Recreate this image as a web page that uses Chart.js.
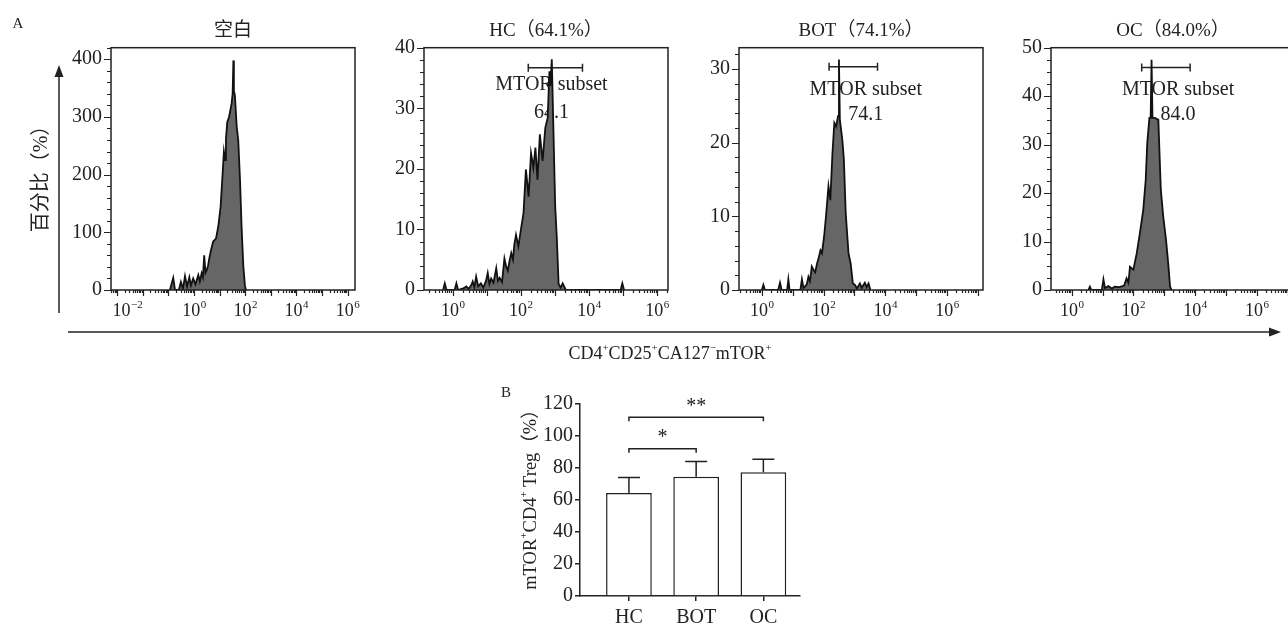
<!DOCTYPE html>
<html>
<head>
<meta charset="utf-8">
<script src="https://cdn.jsdelivr.net/npm/chart.js@4.4.1/dist/chart.umd.min.js"></script>
<style>
html, body { margin: 0; padding: 0; background: #fff; overflow: hidden; }
#fig { position: relative; width: 1288px; height: 625px; overflow: hidden; background: #fff;
  font-family: "Liberation Serif", "Noto Sans CJK SC", serif; color: #222; }
#fig canvas { position: absolute; top: 0; }
#fig svg { position: absolute; left: 0; top: 0; }
.lab { position: absolute; white-space: nowrap; line-height: 1; transform: translate(-50%, -50%); }
.rot { transform: translate(-50%, -50%) rotate(-90deg); }
sup { font-size: 60%; line-height: 0; vertical-align: 0.75em; }
</style>
</head>
<body>
<div id="fig">
  <canvas id="p1" width="328" height="330" style="left:41px"></canvas>
  <canvas id="p2" width="328" height="330" style="left:354px"></canvas>
  <canvas id="p3" width="328" height="330" style="left:669px"></canvas>
  <canvas id="p4" width="328" height="330" style="left:981px"></canvas>
  <canvas id="bar" width="335" height="245" style="left:480px;top:380px"></canvas>

  <svg width="1288" height="625">
    <line x1="59" y1="313" x2="59" y2="74" stroke="#222" stroke-width="1.5"/>
    <polygon points="59,65 54.5,77 63.5,77" fill="#222"/>
    <line x1="68" y1="332" x2="1272" y2="332" stroke="#222" stroke-width="1.5"/>
    <polygon points="1281,332 1269,327.5 1269,336.5" fill="#222"/>
  </svg>

  <div class="lab" style="left:18px;top:23px;font-size:15px">A</div>
  <div class="lab" style="left:506px;top:392px;font-size:15px">B</div>
  <div class="lab rot" style="left:40px;top:174px;font-size:20px">百分比（%）</div>
  <div class="lab" style="left:670px;top:353px;font-size:18px">CD4<sup>+</sup>CD25<sup>+</sup>CA127<sup>−</sup>mTOR<sup>+</sup></div>
  <div class="lab rot" style="left:530px;top:495px;font-size:18.5px">mTOR<sup>+</sup>CD4<sup>+</sup> Treg（%）</div>
</div>

<script>
// 直方图数据：x 为荧光强度的对数位置（10 的指数），y 为计数
const blankX = [-0.94, -0.81, -0.74, -0.59, -0.51, -0.43, -0.35, -0.27, -0.18, -0.12, -0.03, 0.06, 0.17, 0.23, 0.30, 0.35, 0.40, 0.45, 0.50, 0.55, 0.60, 0.66, 0.75, 0.86, 0.95, 1.04, 1.12, 1.17, 1.22, 1.25, 1.30, 1.37, 1.41, 1.47, 1.51, 1.54, 1.56, 1.60, 1.67, 1.73, 1.80, 1.86, 1.93, 1.99, 2.03];
const blankY = [0, 21, 0, 0, 14, 2, 24, 6, 22, 8, 20, 10, 26, 15, 29, 22, 60, 30, 35, 42, 55, 68, 84, 89, 110, 144, 202, 240, 225, 262, 291, 300, 309, 323, 340, 398, 345, 337, 283, 260, 190, 110, 40, 8, 0];

const hcX = [-0.28, -0.23, -0.18, 0.06, 0.11, 0.16, 0.33, 0.40, 0.47, 0.55, 0.59, 0.64, 0.69, 0.75, 0.83, 0.90, 0.98, 1.03, 1.08, 1.13, 1.20, 1.28, 1.33, 1.38, 1.45, 1.52, 1.57, 1.62, 1.67, 1.72, 1.77, 1.81, 1.86, 1.93, 2.01, 2.08, 2.15, 2.23, 2.30, 2.37, 2.43, 2.49, 2.56, 2.64, 2.72, 2.79, 2.84, 2.87, 2.91, 2.95, 3.01, 3.06, 3.11, 3.17, 3.23, 3.32, 4.93, 4.98, 5.03];
const hcY = [0, 1.1, 0, 0, 1.1, 0, 0.3, 0.6, 0.2, 0.8, 1.4, 0.5, 2.2, 0.6, 1.1, 0.4, 1.5, 2.8, 1.0, 1.9, 1.2, 3.6, 1.5, 2.0, 1.3, 5.2, 3.9, 3.2, 4.8, 6.1, 5.0, 7.5, 9.1, 7.2, 10.2, 12.7, 19.9, 15.4, 22.6, 20.2, 23.5, 18.2, 25.7, 21.3, 26.8, 28.4, 36.1, 33.7, 38.1, 28.4, 13.8, 8.3, 1.0, 0.4, 1.1, 0, 0, 1.1, 0];

const botX = [0.00, 0.05, 0.10, 0.53, 0.59, 0.64, 0.82, 0.86, 0.90, 1.25, 1.30, 1.35, 1.41, 1.46, 1.51, 1.56, 1.62, 1.68, 1.73, 1.79, 1.84, 1.90, 1.95, 2.02, 2.08, 2.16, 2.22, 2.29, 2.35, 2.41, 2.47, 2.50, 2.53, 2.61, 2.66, 2.72, 2.81, 2.88, 2.95, 3.02, 3.08, 3.18, 3.24, 3.34, 3.40, 3.46, 3.52];
const botY = [0, 0.7, 0, 0, 1.0, 0, 0, 1.45, 0, 0, 1.45, 0.3, 0.5, 0.8, 1.8, 1.2, 3.2, 2.7, 2.4, 3.6, 4.3, 5.4, 5.0, 7.3, 10.0, 14.1, 12.2, 18.6, 22.7, 22.2, 23.6, 31.3, 23.1, 20.4, 17.7, 10.4, 5.0, 3.6, 0.9, 0.7, 0.2, 0.9, 0.3, 1.0, 0.4, 0.9, 0];

const ocX = [0.54, 0.59, 0.64, 0.98, 1.03, 1.08, 1.19, 1.30, 1.40, 1.55, 1.70, 1.78, 1.84, 1.89, 2.00, 2.11, 2.21, 2.32, 2.40, 2.45, 2.52, 2.56, 2.59, 2.62, 2.70, 2.81, 2.89, 2.97, 3.06, 3.13, 3.19, 3.24];
const ocY = [0, 0.7, 0, 0, 2.2, 0.4, 0.8, 0.3, 0.7, 0.6, 0.9, 2.4, 1.5, 4.8, 4.2, 7.6, 11.7, 16.5, 22.7, 30.3, 35.5, 35.5, 47.5, 35.5, 35.5, 35.1, 20.7, 15.1, 10.3, 5.5, 0.7, 0];

// 坐标轴刻度（x 轴标签写作 10 的幂）
const decadeExp = ['−2', '0', '2', '4', '6'];
const blankXTicks = [-2.6, 0, 2, 4, 6];
const otherXTicks = [0, 2, 4, 6];
const blankYTicks = [0, 100, 200, 300, 400];
const hcYTicks = [0, 10, 20, 30, 40];
const botYTicks = [0, 10, 20, 30];
const ocYTicks = [0, 10, 20, 30, 40, 50];

const titles = ['空白', 'HC（64.1%）', 'BOT（74.1%）', 'OC（84.0%）'];

// MTOR subset 门控（HC、BOT、OC）
const gateFrom = [2.22, 2.18, 2.27];
const gateTo = [3.81, 3.75, 3.84];
const gateLevel = [36.7, 30.3, 45.9];
const gateValue = ['64.1', '74.1', '84.0'];
const gateTextX = [2.9, 3.37, 3.45];
const gateNameY = [33.9, 27.2, 41.3];
const gateValueY = [29.3, 23.8, 36.2];

// 柱状图 B
const groups = ['HC', 'BOT', 'OC'];
const means = [64.3, 74.6, 77.3];
const sds = [9.7, 9.4, 8.1];
const barYTicks = [0, 20, 40, 60, 80, 100, 120];
const sigFrom = [0, 0];
const sigTo = [1, 2];
const sigLevel = [92, 111.7];
const sigMark = ['*', '**'];

const FONT = '"Liberation Serif", "Noto Sans CJK SC", serif';
const INK = '#222';

// 直方图的边框、刻度、标题和门控
const histDeco = {
    id: 'histDeco',
    beforeDatasetsDraw(chart, args, opts) {
        if (opts.gate < 0) return;
        const ctx = chart.ctx, xs = chart.scales.x, ys = chart.scales.y;
        const i = opts.gate;
        const x1 = xs.getPixelForValue(gateFrom[i]), x2 = xs.getPixelForValue(gateTo[i]);
        const y = ys.getPixelForValue(gateLevel[i]);
        ctx.save();
        ctx.strokeStyle = INK;
        ctx.lineWidth = 1.5;
        ctx.beginPath();
        ctx.moveTo(x1, y); ctx.lineTo(x2, y);
        ctx.moveTo(x1, y - 4); ctx.lineTo(x1, y + 4);
        ctx.moveTo(x2, y - 4); ctx.lineTo(x2, y + 4);
        ctx.stroke();
        ctx.fillStyle = INK;
        ctx.font = '20px ' + FONT;
        ctx.textAlign = 'center';
        ctx.textBaseline = 'middle';
        const tx = xs.getPixelForValue(gateTextX[i]);
        ctx.fillText('MTOR subset', tx, ys.getPixelForValue(gateNameY[i]));
        ctx.fillText(gateValue[i], tx, ys.getPixelForValue(gateValueY[i]));
        ctx.restore();
    },
    afterDraw(chart, args, opts) {
        const ctx = chart.ctx, a = chart.chartArea;
        const xs = chart.scales.x, ys = chart.scales.y;
        ctx.save();
        ctx.strokeStyle = INK;
        ctx.lineWidth = 1.5;
        ctx.strokeRect(a.left, a.top, a.right - a.left, a.bottom - a.top);

        ctx.lineWidth = 1.2;
        ctx.beginPath();
        // y 轴主、次刻度
        for (let v = 0; v <= ys.max + 1e-6; v += opts.minor) {
            const major = Math.abs(v / opts.major - Math.round(v / opts.major)) < 1e-6;
            const len = major ? 7 : 4;
            const py = Math.round(ys.getPixelForValue(v)) + 0.5;
            ctx.moveTo(a.left - len, py);
            ctx.lineTo(a.left, py);
        }
        // x 轴对数刻度
        for (let n = Math.floor(xs.min); n <= Math.ceil(xs.max); n++) {
            for (let k = 1; k <= 9; k++) {
                const u = n + Math.log10(k);
                if (u < xs.min || u > xs.max) continue;
                const px = Math.round(xs.getPixelForValue(u)) + 0.5;
                ctx.moveTo(px, a.bottom);
                ctx.lineTo(px, a.bottom + (k === 1 ? 6 : 3));
            }
        }
        ctx.stroke();

        // x 轴标签：10 加上标指数
        ctx.fillStyle = INK;
        ctx.textBaseline = 'alphabetic';
        ctx.textAlign = 'left';
        xs.ticks.forEach((t, i) => {
            const e = opts.exps[i];
            ctx.font = '18px ' + FONT;
            const wb = ctx.measureText('10').width;
            ctx.font = '11px ' + FONT;
            const we = ctx.measureText(e).width;
            const x0 = xs.getPixelForValue(t.value) - (wb + we) / 2;
            const base = a.bottom + 26;
            ctx.font = '18px ' + FONT;
            ctx.fillText('10', x0, base);
            ctx.font = '11px ' + FONT;
            ctx.fillText(e, x0 + wb + 0.5, base - 8);
        });

        ctx.font = '19px ' + FONT;
        ctx.textAlign = 'center';
        ctx.textBaseline = 'middle';
        ctx.fillText(opts.title, (a.left + a.right) / 2, a.top - 17);
        ctx.restore();
    }
};

function histogram(id, xs, ys, xRange, xTicks, exps, yMax, yTicks, minor, title, gate) {
    new Chart(document.getElementById(id), {
        type: 'line',
        data: {
            datasets: [{
                data: xs.map((x, i) => ({ x: x, y: ys[i] })),
                borderColor: '#111',
                backgroundColor: '#666',
                borderWidth: 1.8,
                pointRadius: 0,
                tension: 0,
                fill: 'origin'
            }]
        },
        options: {
            responsive: false,
            animation: false,
            layout: { padding: { top: 47.7, right: 14, left: 0, bottom: 0 } },
            plugins: {
                legend: { display: false },
                tooltip: { enabled: false },
                histDeco: { title: title, minor: minor, major: yTicks[1], gate: gate, exps: exps }
            },
            scales: {
                x: {
                    type: 'linear',
                    min: xRange[0],
                    max: xRange[1],
                    grid: { display: false, drawTicks: false },
                    border: { display: false },
                    afterBuildTicks: s => { s.ticks = xTicks.map(v => ({ value: v })); },
                    afterFit: s => { s.height = 40; },
                    ticks: { display: false }
                },
                y: {
                    min: 0,
                    max: yMax,
                    grid: { display: false, drawTicks: false },
                    border: { display: false },
                    afterBuildTicks: s => { s.ticks = yTicks.map(v => ({ value: v })); },
                    afterFit: s => { s.width = 70; },
                    ticks: {
                        padding: 9,
                        color: INK,
                        font: { family: FONT, size: 20 }
                    }
                }
            }
        },
        plugins: [histDeco]
    });
}

histogram('p1', blankX, blankY, [-3.24, 6.29], blankXTicks, decadeExp, 420, blankYTicks, 20, titles[0], -1);
histogram('p2', hcX, hcY, [-0.84, 6.32], otherXTicks, decadeExp.slice(1), 40, hcYTicks, 2, titles[1], 0);
histogram('p3', botX, botY, [-0.74, 7.17], otherXTicks, decadeExp.slice(1), 32.9, botYTicks, 2, titles[2], 1);
histogram('p4', ocX, ocY, [-0.67, 7.24], otherXTicks, decadeExp.slice(1), 50, ocYTicks, 2.5, titles[3], 2);

// 柱状图的误差线与显著性标记
const barDeco = {
    id: 'barDeco',
    afterDatasetsDraw(chart) {
        const ctx = chart.ctx, xs = chart.scales.x, ys = chart.scales.y;
        ctx.save();
        ctx.strokeStyle = INK;
        ctx.lineWidth = 1.5;
        ctx.beginPath();
        means.forEach((m, i) => {
            const px = xs.getPixelForValue(i);
            const top = ys.getPixelForValue(m + sds[i]);
            ctx.moveTo(px, ys.getPixelForValue(m));
            ctx.lineTo(px, top);
            ctx.moveTo(px - 11, top);
            ctx.lineTo(px + 11, top);
        });
        sigLevel.forEach((lv, i) => {
            const x1 = xs.getPixelForValue(sigFrom[i]), x2 = xs.getPixelForValue(sigTo[i]);
            const y = ys.getPixelForValue(lv);
            ctx.moveTo(x1, y + 4); ctx.lineTo(x1, y); ctx.lineTo(x2, y); ctx.lineTo(x2, y + 4);
        });
        ctx.stroke();
        ctx.fillStyle = INK;
        ctx.font = '20px ' + FONT;
        ctx.textAlign = 'center';
        ctx.textBaseline = 'middle';
        sigLevel.forEach((lv, i) => {
            const cx = (xs.getPixelForValue(sigFrom[i]) + xs.getPixelForValue(sigTo[i])) / 2;
            ctx.fillText(sigMark[i], cx, ys.getPixelForValue(lv) - 11);
        });
        ctx.restore();
    }
};

new Chart(document.getElementById('bar'), {
    type: 'bar',
    data: {
        datasets: [{
            data: means.map((m, i) => ({ x: i, y: m })),
            backgroundColor: '#fff',
            borderColor: INK,
            borderWidth: 1.5,
            barPercentage: 0.85,
            categoryPercentage: 0.8
        }]
    },
    options: {
        responsive: false,
        animation: false,
        layout: { padding: { top: 24, right: 15, left: 0, bottom: 0 } },
        plugins: { legend: { display: false }, tooltip: { enabled: false } },
        scales: {
            x: {
                type: 'linear',
                offset: false,
                min: -0.728,
                max: 2.545,
                grid: { display: true, offset: false, drawOnChartArea: false, drawTicks: true, tickLength: 5, color: INK, lineWidth: 1.5 },
                border: { display: true, color: INK, width: 1.5 },
                afterBuildTicks: s => { s.ticks = groups.map((g, i) => ({ value: i })); },
                afterFit: s => { s.height = 29; },
                ticks: {
                    autoSkip: false,
                    maxRotation: 0,
                    padding: 5,
                    color: INK,
                    font: { family: FONT, size: 20 },
                    callback: (v, i) => groups[i]
                }
            },
            y: {
                min: 0,
                max: 120,
                grid: { display: true, drawOnChartArea: false, drawTicks: true, tickLength: 5, color: INK, lineWidth: 1.5 },
                border: { display: true, color: INK, width: 1.5 },
                afterBuildTicks: s => { s.ticks = barYTicks.map(v => ({ value: v })); },
                afterFit: s => { s.width = 100; },
                ticks: {
                    padding: 2,
                    color: INK,
                    font: { family: FONT, size: 20 }
                }
            }
        }
    },
    plugins: [barDeco]
});
</script>
</body>
</html>
